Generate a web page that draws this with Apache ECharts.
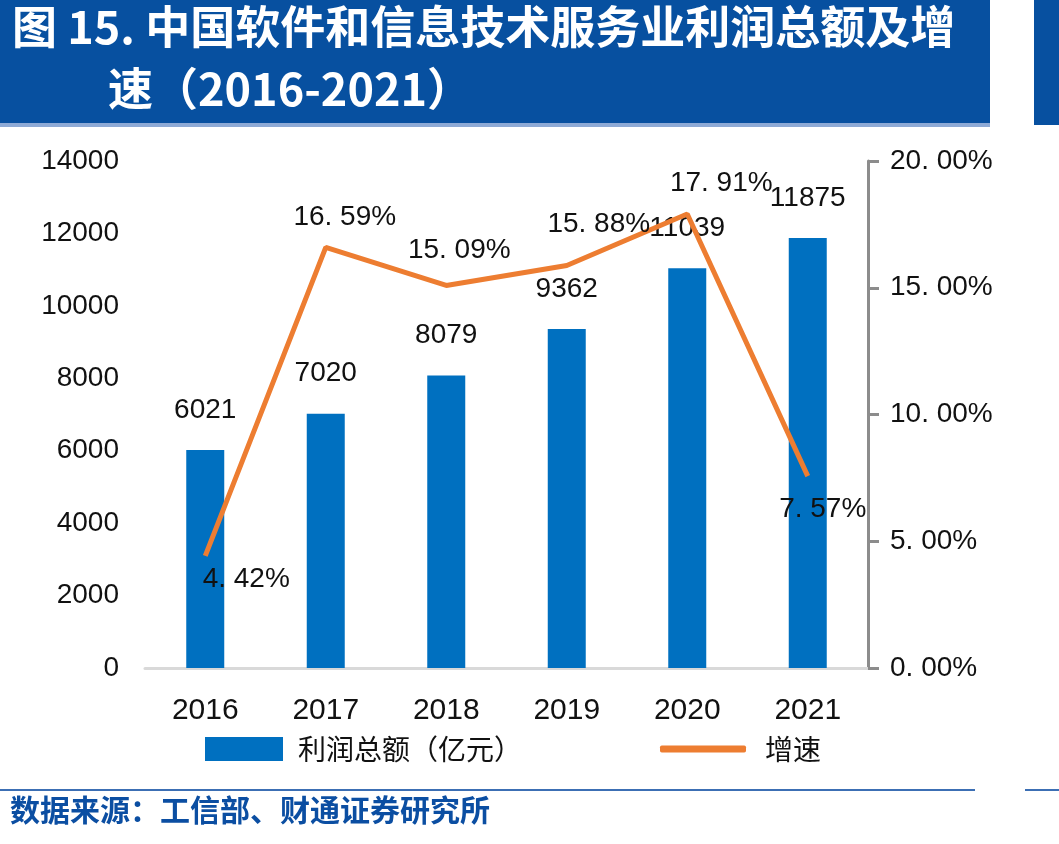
<!DOCTYPE html>
<html>
<head>
<meta charset="utf-8">
<script src="https://cdn.jsdelivr.net/npm/echarts@6/dist/echarts.min.js"></script>
<style>
html, body { margin: 0; padding: 0; background: #fff; }
#chart { width: 1059px; height: 844px; }
</style>
</head>
<body>
<div id="chart"></div>
<script>
const years = ['2016', '2017', '2018', '2019', '2020', '2021'];
const profit = [6021, 7020, 8079, 9362, 11039, 11875];
const growth = [4.42, 16.59, 15.09, 15.88, 17.91, 7.57];
// label offsets for the growth labels (px, relative to 'top' position)
const growthLabelOffset = [[41, 43], [19, -11], [13, -16], [32, -22], [34, -11], [15, 53]];

const fmtPct = v => v.toFixed(2).replace('.', '. ') + '%';
const numFont = 'Arial, "Liberation Sans", sans-serif';
const cjkFont = '"Noto Sans CJK SC", sans-serif';

const myChart = echarts.init(document.getElementById('chart'), null, { renderer: 'canvas' });

const option = {
    animation: false,
    backgroundColor: '#fff',
    grid: { left: 145, right: 191, top: 161, bottom: 176 },
    legend: [
        {
            data: ['利润总额（亿元）'],
            left: 205, top: 735,
            padding: 0,
            itemWidth: 78, itemHeight: 24,
            icon: 'rect',
            textStyle: { fontFamily: cjkFont, fontSize: 28, color: '#111', padding: [0, 0, 0, 10] },
        },
        {
            data: ['增速'],
            left: 660, top: 735,
            padding: 0,
            itemWidth: 86, itemHeight: 7,
            icon: 'roundRect',
            itemStyle: { color: '#ed7d31', opacity: 1 },
            textStyle: { fontFamily: cjkFont, fontSize: 28, color: '#111', padding: [0, 0, 0, 14] },
        }
    ],
    xAxis: {
        type: 'category',
        data: years,
        axisTick: { show: false },
        axisLine: { lineStyle: { color: '#d9d9d9', width: 3 } },
        axisLabel: {
            margin: 28,
            color: '#111',
            fontFamily: numFont,
            fontSize: 30,
        }
    },
    yAxis: [
        {
            type: 'value',
            min: 0, max: 14000, interval: 2000,
            axisLine: { show: false },
            axisTick: { show: false },
            splitLine: { show: false },
            axisLabel: {
                margin: 26,
                color: '#111',
                fontFamily: numFont,
                fontSize: 28,
                formatter: v => String(v)
            }
        },
        {
            type: 'value',
            min: 0, max: 20, interval: 5,
            position: 'right',
            axisLine: { show: true, lineStyle: { color: '#8c8c8c', width: 3 } },
            axisTick: { show: true, inside: false, length: 11, lineStyle: { color: '#8c8c8c', width: 3 } },
            splitLine: { show: false },
            axisLabel: {
                margin: 22,
                color: '#111',
                fontFamily: numFont,
                fontSize: 28,
                formatter: v => fmtPct(v)
            }
        }
    ],
    series: [
        {
            name: '利润总额（亿元）',
            type: 'bar',
            data: profit,
            barWidth: 38,
            itemStyle: { color: '#0070c0' },
            label: {
                show: true,
                position: 'top',
                distance: 26,
                color: '#111',
                fontFamily: numFont,
                fontSize: 28,
            }
        },
        {
            name: '增速',
            type: 'line',
            yAxisIndex: 1,
            data: growth.map((v, i) => ({
                value: v,
                label: { offset: growthLabelOffset[i] }
            })),
            symbol: 'circle',
            symbolSize: 1,
            showSymbol: true,
            lineStyle: { color: '#ed7d31', width: 5 },
            itemStyle: { color: 'rgba(0,0,0,0)' },
            z: 3,
            label: {
                show: true,
                position: 'top',
                distance: 5,
                color: '#111',
                fontFamily: numFont,
                fontSize: 28,
                formatter: p => fmtPct(p.value)
            }
        }
    ],
    graphic: [
        // title banner
        { type: 'rect', left: 0, top: 0, z: 10, shape: { width: 990, height: 123 }, style: { fill: '#0750a0' } },
        { type: 'rect', left: 0, top: 123, z: 10, shape: { width: 990, height: 4 }, style: { fill: '#8eaad6' } },
        { type: 'rect', left: 1034, top: 0, z: 10, shape: { width: 25, height: 125 }, style: { fill: '#0750a0' } },
        {
            type: 'text', left: 12, top: 4, z: 11,
            style: { text: '图 15. 中国软件和信息技术服务业利润总额及增', fill: '#fff', font: 'bold 45px "Noto Sans CJK SC", sans-serif' }
        },
        {
            type: 'text', left: 108, top: 66, z: 11,
            style: { text: '速（2016-2021）', fill: '#fff', font: 'bold 45px "Noto Sans CJK SC", sans-serif' }
        },
        // bottom rule and source
        { type: 'rect', left: 0, top: 789, z: 10, shape: { width: 975, height: 2 }, style: { fill: '#3c6fb4' } },
        { type: 'rect', left: 1025, top: 789, z: 10, shape: { width: 34, height: 2 }, style: { fill: '#3c6fb4' } },
        {
            type: 'text', left: 10, top: 795, z: 11,
            style: { text: '数据来源：工信部、财通证券研究所', fill: '#0b4ea2', font: 'bold 30px "Noto Sans CJK SC", sans-serif' }
        }
    ]
};
myChart.setOption(option);
</script>
</body>
</html>
